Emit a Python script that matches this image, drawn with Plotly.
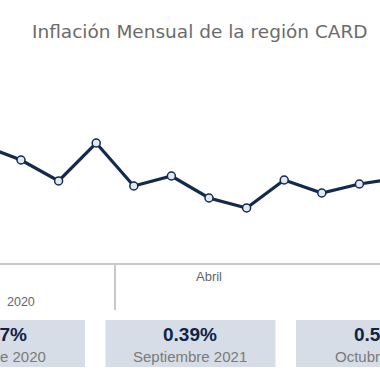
import plotly.graph_objects as go

# Data
month_index = list(range(12))
inflation = [0.469, 0.412, 0.328, 0.480, 0.308, 0.348, 0.260, 0.220, 0.332, 0.280, 0.316, 0.338]
tick_positions = [6]
tick_labels = ["Abril"]
year_label = "2020"
year_label_pos = 1
year_divider_pos = 3.5

card_values = ["0.47%", "0.39%", "0.52%"]
card_labels = ["Octubre 2020", "Septiembre 2021", "Octubre 2021"]

W, H = 380, 380
top, bottom = 60, 263
ph = bottom - top

def py(pix):
    return (bottom - pix) / ph

navy = "#132a4e"

fig = go.Figure()
fig.add_trace(go.Scatter(
    x=month_index, y=inflation, mode="lines+markers",
    line=dict(color=navy, width=3.2),
    marker=dict(size=8, color="#e3e9f2", line=dict(color=navy, width=1.5)),
    cliponaxis=True, showlegend=False, hoverinfo="skip"))

# cards
card_centers = [0, 190.5, 381]
card_w = 170
for c, v, lab in zip(card_centers, card_values, card_labels):
    fig.add_shape(type="rect", xref="paper", yref="paper",
                  x0=(c - card_w / 2) / W, x1=(c + card_w / 2) / W,
                  y0=py(367), y1=py(320), fillcolor="#d6dde6", line=dict(width=0), layer="below")
    fig.add_annotation(xref="paper", yref="paper", x=c / W, y=py(334), text="<b>%s</b>" % v,
                       showarrow=False, xanchor="center", yanchor="middle",
                       font=dict(family="Liberation Sans, Arial", size=19, color="#0f2346"))
    fig.add_annotation(xref="paper", yref="paper", x=c / W, y=py(356), text=lab,
                       showarrow=False, xanchor="center", yanchor="middle",
                       font=dict(family="Liberation Sans, Arial", size=15, color="#7a7a7a"))

# year level
fig.add_annotation(xref="x", yref="paper", x=year_label_pos, y=py(302), text=year_label,
                   showarrow=False, xanchor="center", yanchor="middle",
                   font=dict(family="Liberation Sans, Arial", size=12.5, color="#666666"))
fig.add_shape(type="line", xref="x", yref="paper", x0=year_divider_pos, x1=year_divider_pos,
              y0=0, y1=py(310), line=dict(color="#c8c8c8", width=2))

# title
fig.add_annotation(xref="paper", yref="paper", x=30 / W, y=py(31), text="Inflación Mensual de la región CARD",
                   showarrow=False, xanchor="left", yanchor="middle",
                   font=dict(family="DejaVu Sans", size=18.5, color="#6b6b6b"))

x0 = 16.6 / 37.6
fig.update_layout(
    width=W, height=H, margin=dict(l=0, r=0, t=top, b=H - bottom),
    paper_bgcolor="white", plot_bgcolor="white",
    xaxis=dict(range=[x0, x0 + W / 37.6], tickvals=tick_positions, ticktext=tick_labels,
               showgrid=False, zeroline=False, showline=True, linecolor="#c8c8c8", linewidth=2,
               ticks="", tickfont=dict(family="Liberation Sans, Arial", size=13, color="#666666")),
    yaxis=dict(range=[0, ph * 0.004], visible=False, showgrid=False, zeroline=False),
)
fig.write_html("out.html", config={"displayModeBar": False},
               post_script="document.body.style.margin='0';document.body.style.overflow='hidden';")
